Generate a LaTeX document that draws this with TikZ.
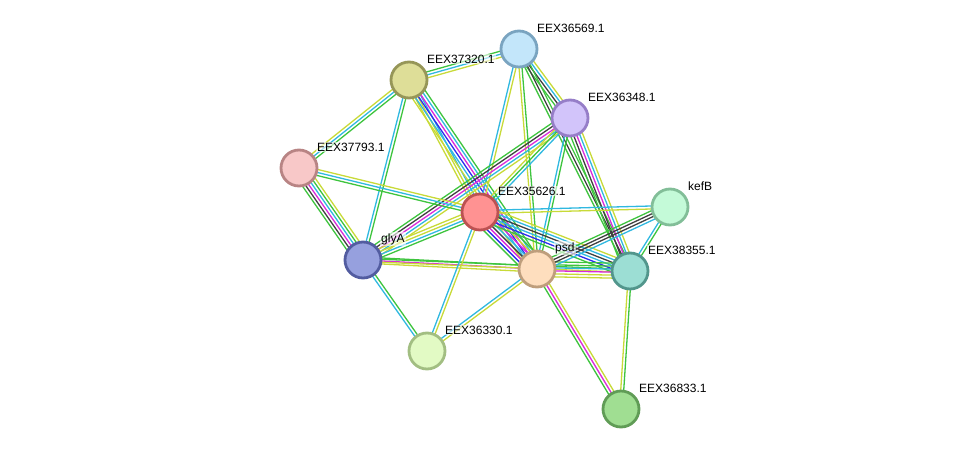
\documentclass[tikz,border=0pt]{standalone}
\usepackage{fontspec}
\setmainfont{Liberation Sans}
\usetikzlibrary{calc,backgrounds}

% evidence colours
\definecolor{tm}{RGB}{200,218,56}
\definecolor{db}{RGB}{48,184,224}
\definecolor{nb}{RGB}{62,196,62}
\definecolor{cx}{RGB}{64,64,64}
\definecolor{exp}{RGB}{218,42,218}
\definecolor{cooc}{RGB}{44,44,238}

% bubble fills and rims
\definecolor{f36569}{RGB}{195,230,250}\definecolor{d36569}{RGB}{122,164,192}
\definecolor{f37320}{RGB}{222,222,152}\definecolor{d37320}{RGB}{150,150,88}
\definecolor{f36348}{RGB}{210,196,250}\definecolor{d36348}{RGB}{150,126,200}
\definecolor{f37793}{RGB}{248,200,200}\definecolor{d37793}{RGB}{184,132,132}
\definecolor{f35626}{RGB}{255,146,146}\definecolor{d35626}{RGB}{188,82,82}
\definecolor{fkefB}{RGB}{196,250,216}\definecolor{dkefB}{RGB}{130,190,152}
\definecolor{fglyA}{RGB}{150,160,222}\definecolor{dglyA}{RGB}{82,92,160}
\definecolor{fpsd}{RGB}{254,222,190}\definecolor{dpsd}{RGB}{190,158,124}
\definecolor{f38355}{RGB}{156,222,212}\definecolor{d38355}{RGB}{82,150,140}
\definecolor{f36330}{RGB}{226,250,196}\definecolor{d36330}{RGB}{162,190,130}
\definecolor{f36833}{RGB}{160,222,146}\definecolor{d36833}{RGB}{96,156,86}

% one line per evidence colour between two proteins
\newcommand\link[3]{%
  \foreach \c [count=\n] in {#3} {\xdef\nlines{\n}}
  \foreach \c [count=\i] in {#3} {
    \pgfmathsetmacro\off{(\i-(\nlines+1)/2)*3}
    \draw[edge,\c] ($(#1)!\off pt!90:(#2)$) -- ($(#2)!\off pt!-90:(#1)$);
  }}

% protein bubble with its name up right
\newcommand\prot[5]{%
  \node[protein, fill=f#4, draw=d#4] (#1) at (#2,#3) {};
  \node[plabel, anchor=west] (#1-l) at (#2+17,#3-21) {#5};}

\begin{document}
\begin{tikzpicture}[x=1pt,y=-1pt,
    protein/.style={circle, minimum size=36pt, inner sep=0pt, line width=2.8pt},
    plabel/.style={font=\fontsize{12}{14}\selectfont, inner sep=1pt,
      fill=white, fill opacity=0.6, text opacity=1},
    edge/.style={line width=1.3pt}]
    \useasboundingbox (0,0) rectangle (975,455);

    % proteins
    \prot{n36569}{519}{49}{36569}{EEX36569.1}
    \prot{n37320}{409}{80}{37320}{EEX37320.1}
    \prot{n36348}{570}{118}{36348}{EEX36348.1}
    \prot{n37793}{299}{168}{37793}{EEX37793.1}
    \prot{n35626}{480}{212}{35626}{EEX35626.1}
    \prot{kefB}{670}{207}{kefB}{kefB}
    \prot{glyA}{363}{260}{glyA}{glyA}
    \prot{psd}{537}{269}{psd}{psd}
    \prot{n38355}{630}{271}{38355}{EEX38355.1}
    \prot{n36330}{427}{351}{36330}{EEX36330.1}
    \prot{n36833}{621}{409}{36833}{EEX36833.1}

    % interactions
    \begin{scope}[on background layer]
    \link{n37320}{n36569}{tm,db,nb}
    \link{n37320}{n37793}{tm,db,nb}
    \link{n37320}{glyA}{db,nb}
    \link{n37320}{n35626}{tm,tm,db}
    \link{n37320}{psd}{tm,db,cooc,exp,db,nb}
    \link{n36569}{n36348}{nb,cx,db,tm}
    \link{n36569}{n38355}{nb,cx,nb}
    \link{n36569}{n35626}{db,tm}
    \link{n36569}{psd}{tm,nb}
    \link{n36348}{glyA}{nb,cx,exp,db,tm}
    \link{n36348}{n35626}{tm,nb,db}
    \link{n36348}{psd}{db,nb}
    \link{n36348}{n38355}{nb,cx,exp,db,tm}
    \link{n37793}{n35626}{nb,db,tm}
    \link{n37793}{glyA}{nb,cx,exp,db,nb,tm}
    \link{glyA}{n35626}{nb,db,tm,tm}
    \link{glyA}{psd}{tm,exp,nb}
    \link{glyA}{n38355}{tm,nb}
    \link{glyA}{n36330}{db,nb}
    \link{n35626}{psd}{nb,cooc,exp,cx,db,exp,tm,nb}
    \link{n35626}{n38355}{nb,cooc,db,cx,db,tm}
    \link{n35626}{kefB}{tm,db}
    \link{n35626}{n36330}{db,tm}
    \link{psd}{n36330}{db,tm}
    \link{psd}{n38355}{tm,tm,exp,db,nb,nb}
    \link{psd}{kefB}{db,cx,cx,nb}
    \link{psd}{n36833}{nb,exp,tm}
    \link{n38355}{kefB}{nb,db}
    \link{n38355}{n36833}{tm,nb}
    \end{scope}
\end{tikzpicture}
\end{document}
